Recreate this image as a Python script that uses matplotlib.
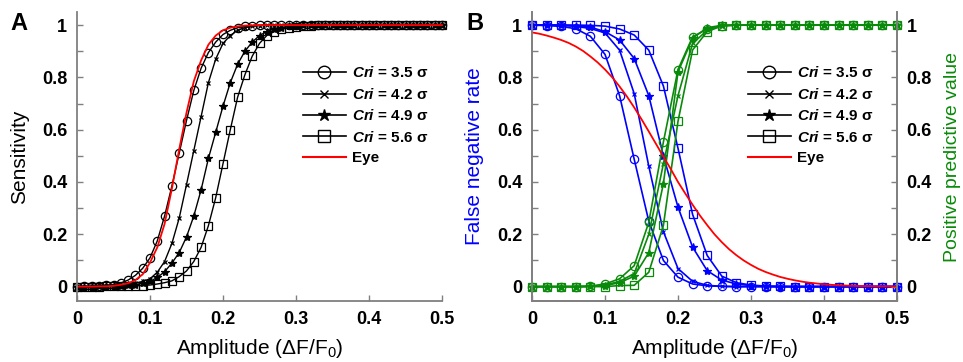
import numpy as np
import matplotlib
matplotlib.use('Agg')
import matplotlib.pyplot as plt
from matplotlib.lines import Line2D

plt.rcParams['font.family'] = ['Liberation Sans', 'DejaVu Sans']
plt.rcParams['mathtext.fontset'] = 'custom'
plt.rcParams['mathtext.rm'] = 'Liberation Sans'
plt.rcParams['mathtext.it'] = 'Liberation Sans:italic'
plt.rcParams['mathtext.bf'] = 'Liberation Sans:bold'
plt.rcParams['mathtext.bfit'] = 'Liberation Sans:italic:bold'

# amplitude grids (panel A every 0.01, panel B markers every 0.02)
amp = np.round(np.arange(0, 0.501, 0.01), 2)
amp_b = np.round(np.arange(0, 0.501, 0.02), 2)

# panel A: sensitivity
sens_35 = [0, 0.001, 0.002, 0.003, 0.005, 0.008, 0.014, 0.025, 0.043, 0.07, 0.11, 0.175, 0.27,
           0.385, 0.51, 0.635, 0.75, 0.835, 0.895, 0.935, 0.964, 0.98, 0.99, 0.995, 0.997, 0.999] + [1] * 25
sens_42 = [0, 0, 0.001, 0.001, 0.002, 0.003, 0.005, 0.008, 0.013, 0.02, 0.03, 0.055, 0.096, 0.165,
           0.262, 0.39, 0.52, 0.65, 0.78, 0.87, 0.93, 0.96, 0.98, 0.99, 0.995, 0.998, 0.999] + [1] * 24
sens_49 = [0, 0, 0, 0.001, 0.001, 0.002, 0.003, 0.005, 0.008, 0.012, 0.02, 0.035, 0.057, 0.09, 0.13,
           0.19, 0.27, 0.37, 0.49, 0.59, 0.69, 0.78, 0.85, 0.90, 0.935, 0.96, 0.975, 0.985, 0.99,
           0.995, 0.997, 0.999] + [1] * 19
sens_56 = [0, 0, 0, 0, 0.001, 0.001, 0.001, 0.002, 0.003, 0.004, 0.006, 0.01, 0.015, 0.022, 0.038,
           0.06, 0.096, 0.15, 0.233, 0.34, 0.47, 0.60, 0.724, 0.81, 0.881, 0.93, 0.96, 0.975, 0.985,
           0.99, 0.994, 0.996, 0.998, 0.999] + [1] * 17
eye_a = [0, 0, 0, 0.001, 0.001, 0.003, 0.007, 0.013, 0.025, 0.047, 0.092, 0.15, 0.24, 0.375, 0.525,
         0.665, 0.785, 0.865, 0.925, 0.96, 0.98, 0.99, 0.995, 0.998, 0.999] + [1] * 26

# panel B: false negative rate (left axis) and positive predictive value (right axis)
fnr_35 = [1.0, 0.998, 0.995, 0.986, 0.957, 0.888, 0.73, 0.487, 0.25, 0.10, 0.036, 0.01, 0.003, 0.001] + [0] * 12
fnr_42 = [1.0, 1.0, 0.999, 0.995, 0.987, 0.97, 0.904, 0.738, 0.46, 0.21, 0.069, 0.02, 0.005, 0.001] + [0] * 12
fnr_49 = [1.0, 1.0, 1.0, 0.997, 0.992, 0.975, 0.943, 0.872, 0.73, 0.50, 0.304, 0.151, 0.061, 0.025,
          0.01, 0.004, 0.001] + [0] * 9
fnr_56 = [1.0, 1.0, 1.0, 1.0, 0.999, 0.996, 0.985, 0.962, 0.904, 0.767, 0.529, 0.276, 0.119, 0.04,
          0.015, 0.006, 0.002, 0.001] + [0] * 8
ppv_35 = [0, 0, 0, 0, 0.002, 0.01, 0.03, 0.08, 0.246, 0.553, 0.83, 0.955, 0.985, 0.998] + [1] * 12
ppv_42 = [0, 0, 0, 0, 0.001, 0.006, 0.02, 0.05, 0.2, 0.47, 0.73, 0.93, 0.98, 0.997] + [1] * 12
ppv_49 = [0, 0, 0, 0, 0.001, 0.004, 0.015, 0.04, 0.13, 0.394, 0.821, 0.95, 0.99, 0.999] + [1] * 12
ppv_56 = [0, 0, 0, 0, 0, 0, 0.004, 0.005, 0.055, 0.234, 0.632, 0.905, 0.975, 0.997] + [1] * 12
eye_b = [0.972, 0.967, 0.96, 0.952, 0.943, 0.932, 0.918, 0.901, 0.88, 0.857, 0.83, 0.80, 0.765, 0.727,
         0.685, 0.64, 0.593, 0.545, 0.497, 0.45, 0.40, 0.356, 0.313, 0.272, 0.235, 0.20, 0.17, 0.143,
         0.12, 0.10, 0.083, 0.068, 0.056, 0.046, 0.037, 0.03, 0.024, 0.019, 0.015, 0.012, 0.009, 0.007,
         0.005, 0.004, 0.003, 0.002, 0.002, 0.001, 0.001, 0.001, 0.0]

cri_labels = ['3.5', '4.2', '4.9', '5.6']
markers = [('o', 6, 'none'), ('x', 3.5, None), ('*', 6, None), ('s', 5.5, 'none')]
xticks = [0, 0.1, 0.2, 0.3, 0.4, 0.5]
xtick_labels = ['0', '0.1', '0.2', '0.3', '0.4', '0.5']
yticks = [0, 0.2, 0.4, 0.6, 0.8, 1]
ytick_labels = ['0', '0.2', '0.4', '0.6', '0.8', '1']

spine_col = '#808080'
blue = '#0000ff'
green = '#0a8a0a'
red = '#ff0000'


def style_axis(ax, right=False):
    ax.set_xlim(0, 0.5)
    ax.set_ylim(-0.055, 1.05)
    ax.set_xticks(xticks)
    ax.set_xticklabels(xtick_labels)
    ax.set_yticks(yticks)
    ax.set_yticklabels(ytick_labels)
    ax.set_yticks(np.arange(0.1, 1.0, 0.2), minor=True)
    ax.spines['top'].set_visible(False)
    ax.spines['right'].set_visible(right)
    for s in ax.spines.values():
        s.set_color(spine_col)
        s.set_linewidth(1.3)
    ax.tick_params(which='both', direction='in', color=spine_col, length=4, width=1)
    ax.tick_params(axis='x', pad=7)
    ax.tick_params(axis='y', pad=7)
    for lab in ax.get_xticklabels() + ax.get_yticklabels():
        lab.set_fontsize(13)
        lab.set_fontweight('bold')


fig = plt.figure(figsize=(9.63, 3.62), dpi=100)
axA = fig.add_axes([77 / 963, 61 / 362, 365 / 963, 289 / 362])
axB = fig.add_axes([532 / 963, 61 / 362, 365 / 963, 289 / 362])

# ---- panel A
for ys, (m, ms, fc) in zip([sens_35, sens_42, sens_49, sens_56], markers):
    axA.plot(amp, ys, color='black', lw=1, marker=m, ms=ms, mfc=fc, mec='black', mew=0.9, clip_on=False)
axA.plot(amp, eye_a, color=red, lw=1.3, clip_on=False)
style_axis(axA)
axA.set_ylabel('Sensitivity', fontsize=15)
axA.yaxis.set_label_coords(-0.131, 0.5)
axA.set_xlabel('Amplitude (ΔF/F$_\\mathregular{0}$)', fontsize=15)
axA.xaxis.set_label_coords(0.5, -0.125)

# ---- panel B
axB2 = axB.twinx()
for ys, (m, ms, fc) in zip([fnr_35, fnr_42, fnr_49, fnr_56], markers):
    axB.plot(amp_b, ys, color=blue, lw=1.2, marker=m, ms=ms, mfc=fc, mec=blue, mew=0.9, clip_on=False)
for ys, (m, ms, fc) in zip([ppv_35, ppv_42, ppv_49, ppv_56], markers):
    axB2.plot(amp_b, ys, color=green, lw=1.2, marker=m, ms=ms, mfc=fc, mec=green, mew=0.9, clip_on=False)
axB2.plot(amp, eye_b, color=red, lw=1.3, clip_on=False)
style_axis(axB, right=True)
style_axis(axB2, right=True)
axB.set_ylabel('False negative rate', fontsize=15, color=blue)
axB.yaxis.set_label_coords(-0.131, 0.5)
axB2.set_ylabel('Positive predictive value', fontsize=14, color=green)
axB2.yaxis.set_label_coords(1.128, 0.5)
axB.set_xlabel('Amplitude (ΔF/F$_\\mathregular{0}$)', fontsize=15)
axB.xaxis.set_label_coords(0.5, -0.125)

# legends (black proxies)
handles = []
labels = []
for lab, (m, ms, fc) in zip(cri_labels, markers):
    handles.append(Line2D([], [], color='black', lw=1.2, marker=m, ms=ms * 1.5, mfc=fc, mec='black', mew=1))
    labels.append('$\\mathbfit{Cri}$ = ' + lab + ' σ')
handles.append(Line2D([], [], color=red, lw=1.5))
labels.append('Eye')

for ax, x0 in [(axA, 0.619), (axB2, 0.592)]:
    ax.legend(handles, labels, loc='upper left', bbox_to_anchor=(x0, 0.815), frameon=False,
              borderpad=0, borderaxespad=0, handlelength=2.8, handletextpad=0.4, labelspacing=0.42,
              prop={'size': 11, 'weight': 'bold'})

fig.text(10 / 963, 1 - 12 / 362, 'A', fontsize=17, fontweight='bold', va='top', ha='left')
fig.text(466 / 963, 1 - 12 / 362, 'B', fontsize=17, fontweight='bold', va='top', ha='left')

fig.savefig('out.png', dpi=100)
